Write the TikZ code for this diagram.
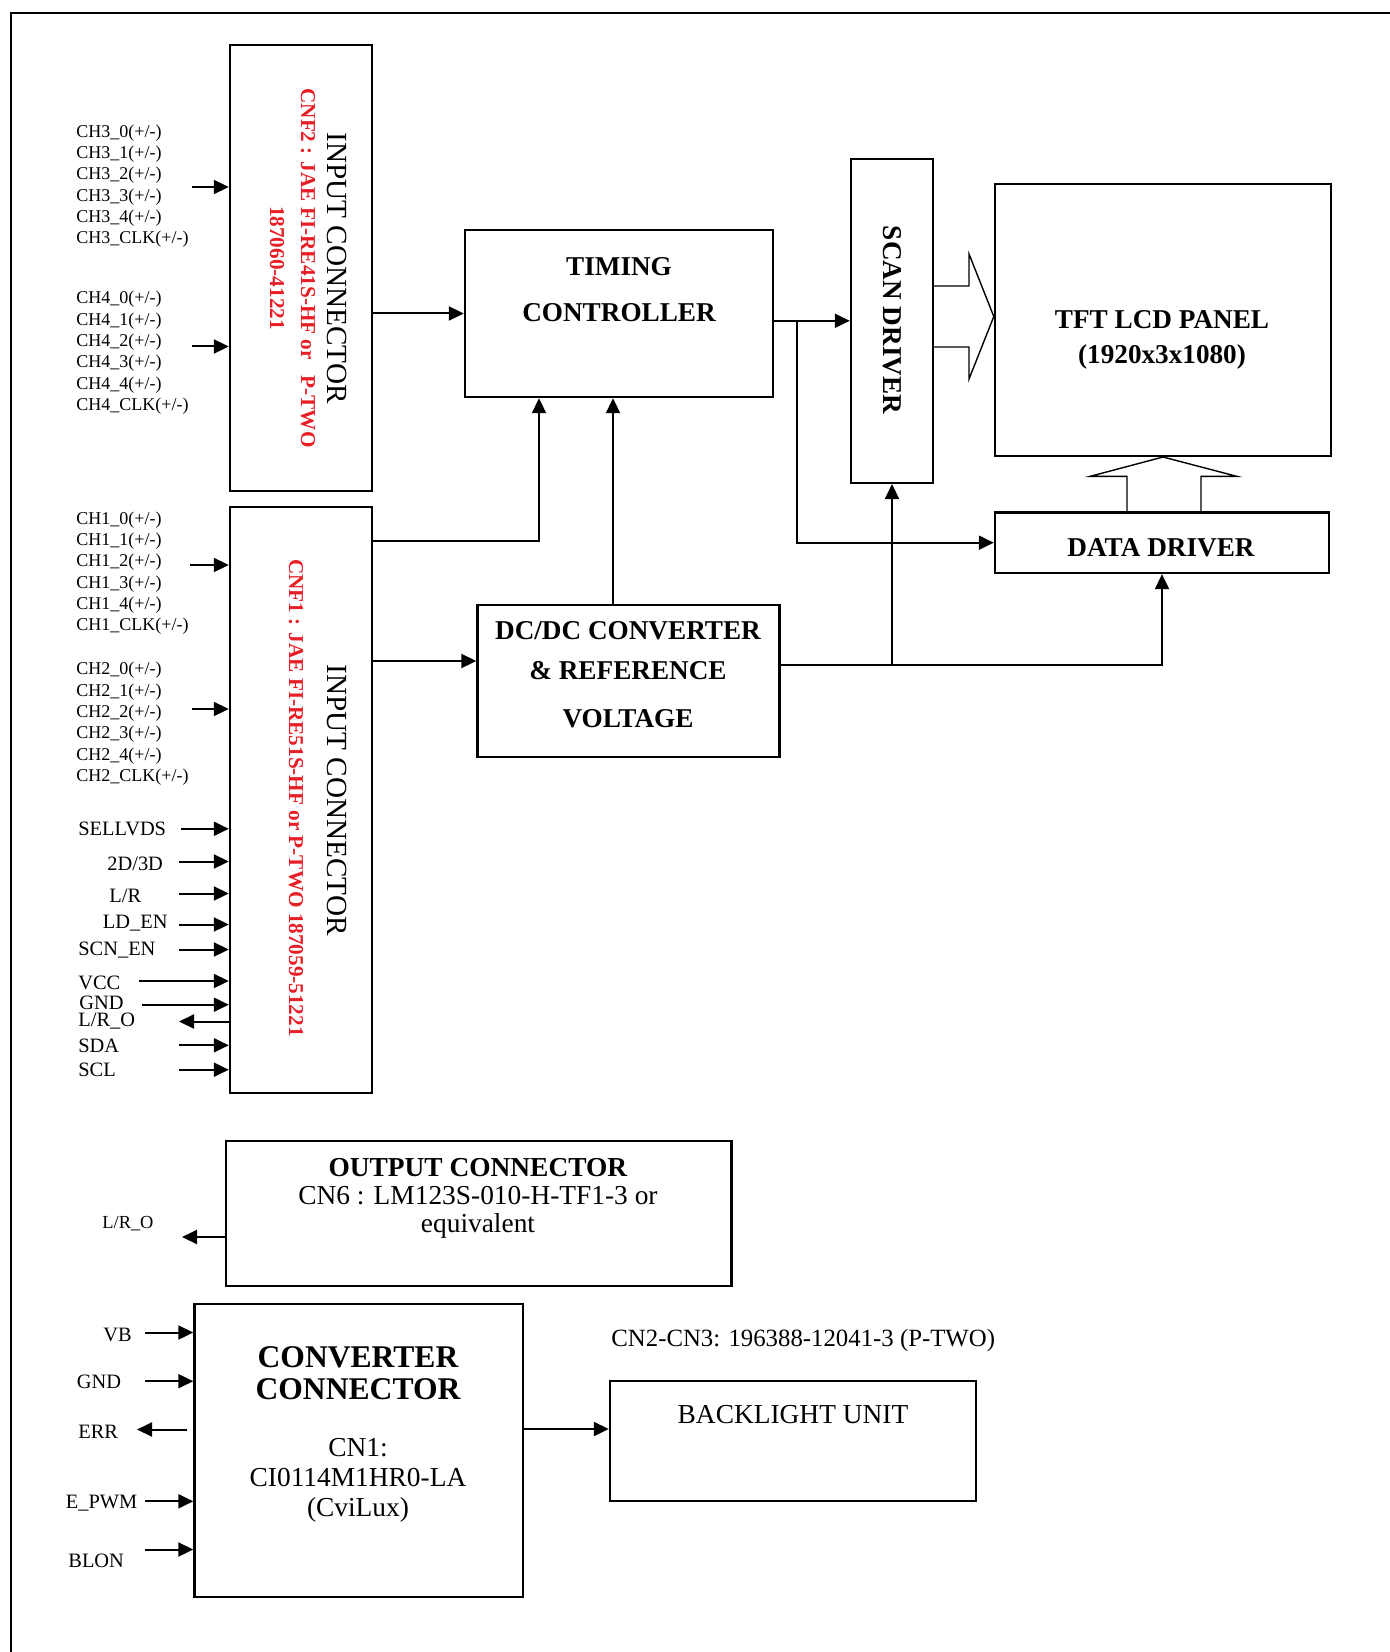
\documentclass[tikz,border=0pt]{standalone}
\usepackage{fontspec}
\setmainfont{Liberation Serif}
\usetikzlibrary{arrows.meta}
\definecolor{cnred}{RGB}{232,30,38}

\begin{document}
\begin{tikzpicture}[x=0.5pt,y=-0.5pt,
  blk/.style={draw,line width=1.2pt,inner sep=0pt},
  sig/.style={line width=1pt,-{Triangle[length=7.5pt,width=7pt]}},
  hollow/.style={line width=0.7pt,line join=miter},
  chlbl/.style={anchor=west,inner sep=0pt,font=\fontsize{9}{10}\selectfont},
  pinlbl/.style={anchor=west,inner sep=0pt,font=\fontsize{10.2}{12}\selectfont},
  conntxt/.style={inner sep=0pt,rotate=-90,font=\fontsize{14.6}{17}\selectfont},
  redtxt/.style={inner sep=0pt,rotate=-90,align=center,text=cnred,font=\fontsize{10.6}{15.5}\selectfont\bfseries},
  hdr/.style={inner sep=0pt,align=center,font=\fontsize{13.6}{17.5}\selectfont\bfseries},
  body/.style={inner sep=0pt,align=center,font=\fontsize{13.7}{14.5}\selectfont}]

  \useasboundingbox (0,0) rectangle (1389,1652);
  % page frame, open at right and bottom
  \draw[line width=1pt] (11,1670) -- (11,12.7) -- (1400,12.7);

  % blocks
  \node[blk,minimum width=71pt,minimum height=223pt] (cnf2) at (301,268) {};
  \node[blk,minimum width=71pt,minimum height=293pt] (cnf1) at (301,800) {};
  \node[blk,minimum width=154pt,minimum height=83.5pt] (tcon) at (619,313.5) {};
  \node[blk,minimum width=151pt,minimum height=76pt] (dcdc) at (628.5,681) {};
  \node[blk,minimum width=41pt,minimum height=162pt] (scan) at (892,320.8) {};
  \node[blk,minimum width=168pt,minimum height=136pt] (panel) at (1163,319.8) {};
  \node[blk,minimum width=167pt,minimum height=30.25pt] (data) at (1162,542.7) {};
  \node[blk,minimum width=252.75pt,minimum height=72.5pt] (outcon) at (478.75,1213.5) {};
  \node[blk,minimum width=164.25pt,minimum height=146.5pt] (convcon) at (358.75,1450.5) {};
  \node[blk,minimum width=183pt,minimum height=60pt] (blu) at (793,1441) {};

  % block texts
  \node[conntxt] (cnf2-t) at (337,268) {INPUT CONNECTOR};
  \node[redtxt] (cnf2-r) at (292.5,268) {CNF2 : JAE FI-RE41S-HF or\ \ \ P-TWO\\187060-41221};
  \node[conntxt] (cnf1-t) at (337,800) {INPUT CONNECTOR};
  \node[redtxt] (cnf1-r) at (296,798) {CNF1 : JAE FI-RE51S-HF or P-TWO 187059-51221};
  \node[hdr] (tcon-t) at (619,290) {TIMING\\[5.5pt]CONTROLLER};
  \node[hdr] (dcdc-t) at (628,675) {DC/DC CONVERTER\\[2.5pt]\& REFERENCE\\[6.5pt]VOLTAGE};
  \node[hdr,rotate=-90] (scan-t) at (892,320) {SCAN DRIVER};
  \node[hdr] (panel-t) at (1162,340) {TFT LCD PANEL\\(1920x3x1080)};
  \node[hdr] (data-t) at (1161,548) {DATA DRIVER};
  \node[body,font=\fontsize{13.7}{14}\selectfont] (outcon-t) at (478,1198)
    {\textbf{OUTPUT CONNECTOR}\\CN6 : LM123S-010-H-TF1-3 or\\equivalent};
  \node[body,font=\fontsize{15.8}{16}\selectfont\bfseries] (convcon-t) at (358,1373) {CONVERTER\\CONNECTOR};
  \node[body,font=\fontsize{13.7}{15}\selectfont] (convcon-n) at (358,1480) {CN1:\\CI0114M1HR0-LA\\(CviLux)};
  \node[body] (blu-t) at (793,1415) {BACKLIGHT UNIT};
  \node[anchor=west,inner sep=0pt,font=\fontsize{12.4}{14}\selectfont] (cn23) at (611,1341) {CN2-CN3: 196388-12041-3 (P-TWO)};

  % LVDS channel lists
  \foreach \g/\y in {3/133,4/299.5,1/520,2/670.5}
    \foreach \k [count=\i from 0] in {0,1,2,3,4,CLK}
      \node[chlbl] (ch\g-\k) at (76,\y+21.3*\i) {CH\g\_\k(+/-)};
  \foreach \g/\b/\ax/\ay in {3/cnf2/192/187,4/cnf2/192/346.5,1/cnf1/190/565,2/cnf1/192/709}{
    \coordinate (ch\g-in) at (\ax,\ay);
    \draw[sig] (ch\g-in) -- (ch\g-in -| \b.west);
  }

  % control pins of CNF1
  \node[pinlbl] (sellvds) at (78,829) {SELLVDS};
  \node[pinlbl] (d23) at (107,863.5) {2D/3D};
  \node[pinlbl] (lr) at (109,895.5) {L/R};
  \node[pinlbl] (lden) at (102.5,923.5) {LD\_EN};
  \node[pinlbl] (scnen) at (78,950) {SCN\_EN};
  \node[pinlbl] (vcc) at (78,982.5) {VCC};
  \node[pinlbl] (gnd) at (79,1002.5) {GND};
  \node[pinlbl] (lro) at (78,1021.5) {L/R\_O};
  \node[pinlbl] (sda) at (78,1046) {SDA};
  \node[pinlbl] (scl) at (78,1069.7) {SCL};
  \foreach \n/\ax/\ay in {sellvds/181/828.8,d23/179/861.5,lr/179/893.5,lden/179/924.5,scnen/179/949.5,
                          vcc/139/981,gnd/142/1004.7,sda/179/1045.3,scl/179/1069.7}{
    \coordinate (\n-in) at (\ax,\ay);
    \draw[sig] (\n-in) -- (\n-in -| cnf1.west);
  }
  \coordinate (lro-out) at (179,1021.5);
  \draw[sig] (lro-out -| cnf1.west) -- (lro-out);

  % internal connections
  \draw[sig] (cnf2.east |- tcon.west) -- (tcon.west);
  \coordinate (tc-a) at (539,540.5);
  \coordinate (tc-b) at (613,540.5);
  \draw[sig] (cnf1.east |- tc-a) -- (tc-a) -- (tc-a |- tcon.south);
  \draw[sig] (tc-b |- dcdc.north) -- (tc-b |- tcon.south);
  \coordinate (dc-a) at (400,661);
  \draw[sig] (cnf1.east |- dc-a) -- (dcdc.west |- dc-a);
  \draw[sig] (tcon.east |- scan.west) -- (scan.west);
  \coordinate (dd-a) at (797,0);
  \draw[sig] (dd-a |- scan.west) |- (data.west);
  \coordinate (pw-a) at (0,664.6);
  \draw[sig] (dcdc.east |- pw-a) -| (data.south);
  \draw[sig] (scan.south |- pw-a) -- (scan.south);

  % hollow bus arrows into the panel
  \draw[hollow] (scan.east |- 0,286) -- (969,286) -- (969,254) -- (panel.west |- 0,316.5)
    -- (969,379) -- (969,347) -- (scan.east |- 0,347);
  \draw[hollow] (1127,0 |- data.north) -- (1127,476.4) -- (1090,476.4) -- (panel.south)
    -- (1237,476.4) -- (1201,476.4) -- (1201,0 |- data.north);

  % output connector
  \node[inner sep=0pt,anchor=west,font=\fontsize{9.2}{11}\selectfont] (lro2) at (102,1224) {L/R\_O};
  \coordinate (lro2-out) at (182,1237);
  \draw[sig] (lro2-out -| outcon.west) -- (lro2-out);

  % converter connector pins
  \node[pinlbl] (vb) at (103,1335) {VB};
  \node[pinlbl] (cgnd) at (76.5,1381.7) {GND};
  \node[pinlbl] (err) at (78,1431.7) {ERR};
  \node[pinlbl] (epwm) at (65.5,1503) {E\_PWM};
  \node[pinlbl] (blon) at (68,1561) {BLON};
  \foreach \n/\ay in {vb/1332.5,cgnd/1381.2,epwm/1501.3,blon/1549.5}{
    \coordinate (\n-in) at (145,\ay);
    \draw[sig] (\n-in) -- (\n-in -| convcon.west);
  }
  \coordinate (err-out) at (137,1429.5);
  \draw[sig,shorten <=3pt] (err-out -| convcon.west) -- (err-out);
  \coordinate (bl-a) at (560,1429);
  \draw[sig] (convcon.east |- bl-a) -- (blu.west |- bl-a);
\end{tikzpicture}
\end{document}
